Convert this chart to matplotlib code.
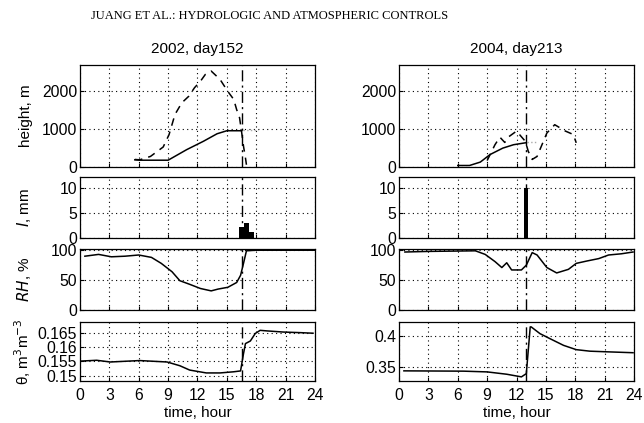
import matplotlib
matplotlib.use("Agg")
import matplotlib.pyplot as plt

# ---- 2002, day152 ----
h02_t = [5.6, 6.1, 9.0, 10.9, 12.6, 14.0, 15.0, 16.5]
h02_solid = [190, 180, 180, 460, 680, 880, 960, 960]
h02_dash_t = [5.6, 6.1, 7.2, 8.5, 9.1, 9.7, 10.4, 11.1, 11.7, 12.3, 12.8, 13.4,
              14.3, 15.1, 15.7, 16.0, 16.3, 16.5, 16.7, 16.9, 17.0]
h02_dash = [200, 190, 280, 530, 860, 1390, 1700, 1870, 2100, 2270, 2450, 2540,
            2320, 2000, 1790, 1520, 1300, 940, 550, 240, 60]
h02_dot_t = [16.6, 18.2]
h02_dot = [970, 970]

rain02_t = [16.5, 17.0, 17.5]
rain02 = [2.2, 3.0, 1.1]

rh02_t = [0.5, 1.9, 3.2, 4.6, 6.0, 7.3, 8.3, 9.4, 10.2, 11.2, 12.3, 13.4, 14.1,
          15.1, 16.0, 16.4, 16.7, 17.0, 18.0, 24.0]
rh02 = [90, 93, 89, 90, 92, 88, 78, 64, 49, 43, 36, 32, 35, 38, 46, 58, 78, 99, 100, 100]

th02_t = [0.0, 1.7, 3.1, 6.1, 8.9, 10.2, 11.2, 12.9, 14.3, 15.7, 16.4, 16.7, 16.9,
          17.4, 17.9, 18.4, 19.1, 20.8, 22.5, 23.8]
th02 = [0.1551, 0.1554, 0.1548, 0.1553, 0.1548, 0.1535, 0.1520, 0.1510, 0.1510,
        0.1514, 0.1517, 0.1577, 0.1612, 0.1621, 0.1647, 0.1658, 0.1656, 0.1652,
        0.1650, 0.1648]

# ---- 2004, day213 ----
h04_t = [6.0, 7.2, 8.3, 9.3, 10.6, 11.7, 12.9, 13.0]
h04_solid = [40, 40, 130, 330, 500, 590, 640, 640]
h04_dash_t = [9.0, 9.8, 10.3, 10.8, 11.2, 12.0, 12.9, 13.2, 13.6, 14.1, 14.6,
              15.1, 15.9, 17.0, 17.8, 18.1]
h04_dash = [170, 590, 790, 650, 800, 950, 680, 415, 200, 280, 590, 900, 1120,
            950, 860, 640]
h04_dot_t = [13.1, 14.1]
h04_dot = [650, 650]

rain04_t = [13.0]
rain04 = [10.0]

rh04_t = [0.6, 3.0, 7.8, 8.8, 9.8, 10.5, 11.0, 11.5, 12.5, 13.0, 13.6, 14.1, 15.1,
          16.1, 17.3, 18.1, 19.2, 20.4, 21.4, 22.7, 23.9]
rh04 = [97, 98, 99, 93, 81, 71, 79, 67, 67, 75, 96, 92, 71, 62, 68, 78, 82, 86,
        92, 94, 97]

th04_t = [0.5, 6.6, 9.0, 11.0, 12.5, 13.0, 13.4, 13.5, 14.4, 15.4, 16.8, 18.1,
          19.5, 21.2, 23.9]
th04 = [0.3435, 0.3430, 0.3418, 0.3380, 0.3337, 0.3390, 0.4150, 0.4150, 0.4040,
        0.3960, 0.3850, 0.3780, 0.3755, 0.3745, 0.3730]

event_02 = 16.5
event_04 = 13.0
xticks = list(range(0, 25, 3))

plt.rcParams["font.family"] = ["Liberation Sans", "DejaVu Sans"]
plt.rcParams["font.size"] = 11

fig = plt.figure(figsize=(6.44, 4.23), dpi=100)
W = 0.3649
cols = [0.1242, 0.6196]
rows = [(0.6052, 0.2411), (0.4374, 0.1442), (0.2671, 0.1442), (0.0993, 0.1395)]

axes = [[fig.add_axes([c, b, W, h]) for (b, h) in rows] for c in cols]

data = [
    dict(h_t=h02_t, h=h02_solid, hd_t=h02_dash_t, hd=h02_dash, dot_t=h02_dot_t, dot=h02_dot,
         r_t=rain02_t, r=rain02, rw=0.5, rh_t=rh02_t, rh=rh02, th_t=th02_t, th=th02,
         ev=event_02, title="2002, day152", thlim=(0.1482, 0.1687),
         thticks=[0.15, 0.155, 0.16, 0.165], thlabels=["0.15", "0.155", "0.16", "0.165"]),
    dict(h_t=h04_t, h=h04_solid, hd_t=h04_dash_t, hd=h04_dash, dot_t=h04_dot_t, dot=h04_dot,
         r_t=rain04_t, r=rain04, rw=0.4, rh_t=rh04_t, rh=rh04, th_t=th04_t, th=th04,
         ev=event_04, title="2004, day213", thlim=(0.327, 0.423),
         thticks=[0.35, 0.4], thlabels=["0.35", "0.4"]),
]

for col, d in zip(axes, data):
    a1, a2, a3, a4 = col
    a1.plot(d["h_t"], d["h"], color="black", lw=1.1)
    a1.plot(d["hd_t"], d["hd"], color="black", lw=1.1, ls=(0, (5, 4)))
    a1.plot(d["dot_t"], d["dot"], color="#aaaaaa", lw=1.0, ls=":")
    a1.set_ylim(0, 2700)
    a1.set_yticks([0, 1000, 2000])
    a1.set_title(d["title"], fontsize=11, pad=9)

    a2.bar(d["r_t"], d["r"], width=d["rw"], color="black")
    a2.set_ylim(0, 12.2)
    a2.set_yticks([0, 5, 10])

    a3.plot(d["rh_t"], d["rh"], color="black", lw=1.1)
    a3.set_ylim(0, 102)
    a3.set_yticks([0, 50, 100])

    a4.plot(d["th_t"], d["th"], color="black", lw=1.1)
    a4.set_ylim(*d["thlim"])
    a4.set_yticks(d["thticks"])
    a4.set_yticklabels(d["thlabels"])
    a4.set_xlabel("time, hour", fontsize=11, labelpad=2)

    for ax in col:
        ax.set_xlim(0, 24)
        ax.set_xticks(xticks)
        ax.axvline(d["ev"], color="black", lw=1.0, ls=(0, (8, 3, 1.5, 3)))
        ax.grid(True, color="black", ls=(0, (1, 3)), lw=0.8)
        ax.tick_params(direction="in", length=3, width=0.8, pad=2, labelsize=11.3)
        ax.tick_params(axis="x", pad=5)
        for s in ax.spines.values():
            s.set_linewidth(0.9)
        if ax is not a4:
            ax.set_xticklabels([])

axes[0][0].set_ylabel("height, m", fontsize=11)
axes[0][1].set_ylabel("$I$, mm", fontsize=11)
axes[0][2].set_ylabel("$RH$, %", fontsize=11)
axes[0][3].set_ylabel("θ, m$^3$m$^{-3}$", fontsize=11)
for ax in axes[0]:
    ax.yaxis.set_label_coords(-0.2, 0.5)

fig.text(0.419, 0.962, "JUANG ET AL.: HYDROLOGIC AND ATMOSPHERIC CONTROLS",
         ha="center", va="center", fontsize=9, family="Liberation Serif")

fig.savefig("out.png", dpi=100)
